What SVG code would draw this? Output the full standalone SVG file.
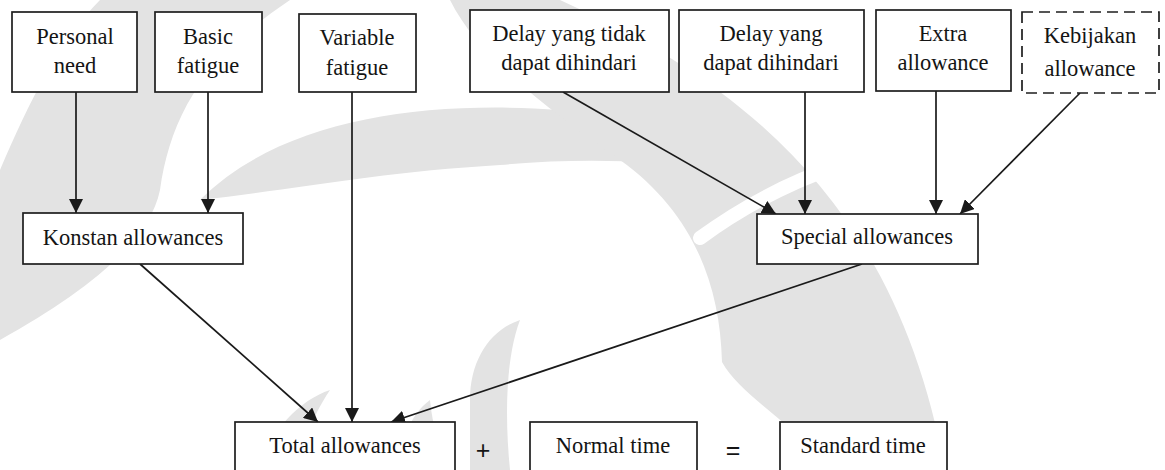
<svg xmlns="http://www.w3.org/2000/svg" width="1165" height="470" viewBox="0 0 1165 470">
  <defs>
    <style>
      .wm { fill: #e3e3e3; }
      .wm-cut { fill: none; stroke: #ffffff; stroke-width: 14; stroke-linecap: round; }
      .box { fill: #ffffff; stroke: #1e1e1e; stroke-width: 1.7; }
      .dash { stroke-dasharray: 11 6; }
      .link { fill: none; stroke: #1a1a1a; stroke-width: 1.7; marker-end: url(#arrow); }
    </style>
    <marker id="arrow" markerUnits="userSpaceOnUse" viewBox="0 0 14 14" refX="14" refY="7" markerWidth="14" markerHeight="14" orient="auto">
      <path d="M0,0 L14,7 L0,14 Z" fill="#1a1a1a"/>
    </marker>
  </defs>

  <rect width="1165" height="470" fill="#ffffff"/>

  <!-- faint background emblem -->
  <g id="watermark">
    <path class="wm" d="M100 0 L290 0 C200 60 170 120 160 190 C150 240 90 290 0 340 L0 170 C30 100 60 40 100 0 Z"/>
    <path class="wm" d="M200 200 C280 120 420 100 560 110 C640 116 690 140 720 170 C650 160 580 158 500 165 C380 172 290 190 200 200 Z"/>
    <path class="wm" d="M450 0 L560 0 C760 90 900 220 945 470 L830 470 C790 420 740 395 722 362 C720 280 690 210 620 160 C550 110 480 60 450 0 Z"/>
    <path class="wm-cut" d="M700 238 C745 205 790 182 840 165"/>
    <path class="wm" d="M260 470 C270 430 300 400 330 390 C310 420 300 450 305 470 Z"/>
    <path class="wm" d="M470 470 L470 400 C470 360 490 330 520 320 C505 360 505 420 510 470 Z"/>
    <path class="wm" d="M405 470 C400 440 410 415 430 400 C432 425 440 450 455 470 Z"/>
  </g>

  <!-- connectors -->
  <g id="connectors">
    <path class="link" d="M76 92 V213"/>
    <path class="link" d="M208 92 V213"/>
    <path class="link" d="M352 92 V422"/>
    <path class="link" d="M140 264 L318 422"/>
    <path class="link" d="M862 264 L391 422"/>
    <path class="link" d="M563 92 L776 214"/>
    <path class="link" d="M805 92 V214"/>
    <path class="link" d="M936 91 V214"/>
    <path class="link" d="M1080 93 L960 214"/>
  </g>

  <g font-family="Liberation Serif, Times New Roman, serif" font-size="22.5" fill="#141414" text-anchor="middle">
    <!-- top row -->
    <g id="personal-need">
      <rect class="box" x="12" y="12" width="125" height="80"/>
      <text x="75" y="44">Personal</text>
      <text x="75" y="73">need</text>
    </g>
    <g id="basic-fatigue">
      <rect class="box" x="155" y="12" width="107" height="80"/>
      <text x="208" y="44">Basic</text>
      <text x="208" y="73">fatigue</text>
    </g>
    <g id="variable-fatigue">
      <rect class="box" x="299" y="14" width="117" height="78"/>
      <text x="357" y="45">Variable</text>
      <text x="357" y="75">fatigue</text>
    </g>
    <g id="delay-unavoidable">
      <rect class="box" x="470" y="10" width="199" height="82"/>
      <text x="569" y="41">Delay yang tidak</text>
      <text x="569" y="70">dapat dihindari</text>
    </g>
    <g id="delay-avoidable">
      <rect class="box" x="679" y="10" width="185" height="82"/>
      <text x="771" y="41">Delay yang</text>
      <text x="771" y="70">dapat dihindari</text>
    </g>
    <g id="extra-allowance">
      <rect class="box" x="876" y="10" width="135" height="81"/>
      <text x="943" y="41">Extra</text>
      <text x="943" y="70">allowance</text>
    </g>
    <g id="policy-allowance">
      <rect class="box dash" x="1022" y="12" width="137" height="81"/>
      <text x="1090" y="43">Kebijakan</text>
      <text x="1090" y="76">allowance</text>
    </g>

    <!-- middle row -->
    <g id="konstan-allowances">
      <rect class="box" x="23" y="213" width="220" height="51"/>
      <text x="133" y="245">Konstan allowances</text>
    </g>
    <g id="special-allowances">
      <rect class="box" x="757" y="214" width="221" height="50"/>
      <text x="867" y="244">Special allowances</text>
    </g>

    <!-- bottom row -->
    <g id="total-allowances">
      <rect class="box" x="235" y="422" width="220" height="60"/>
      <text x="345" y="453">Total allowances</text>
    </g>
    <text x="483" y="459" font-size="25" font-family="Liberation Sans, Arial, sans-serif">+</text>
    <g id="normal-time">
      <rect class="box" x="530" y="422" width="167" height="60"/>
      <text x="613" y="453">Normal time</text>
    </g>
    <text x="733" y="459" font-size="25" font-family="Liberation Sans, Arial, sans-serif">=</text>
    <g id="standard-time">
      <rect class="box" x="780" y="422" width="167" height="60"/>
      <text x="863" y="453">Standard time</text>
    </g>
  </g>
</svg>
